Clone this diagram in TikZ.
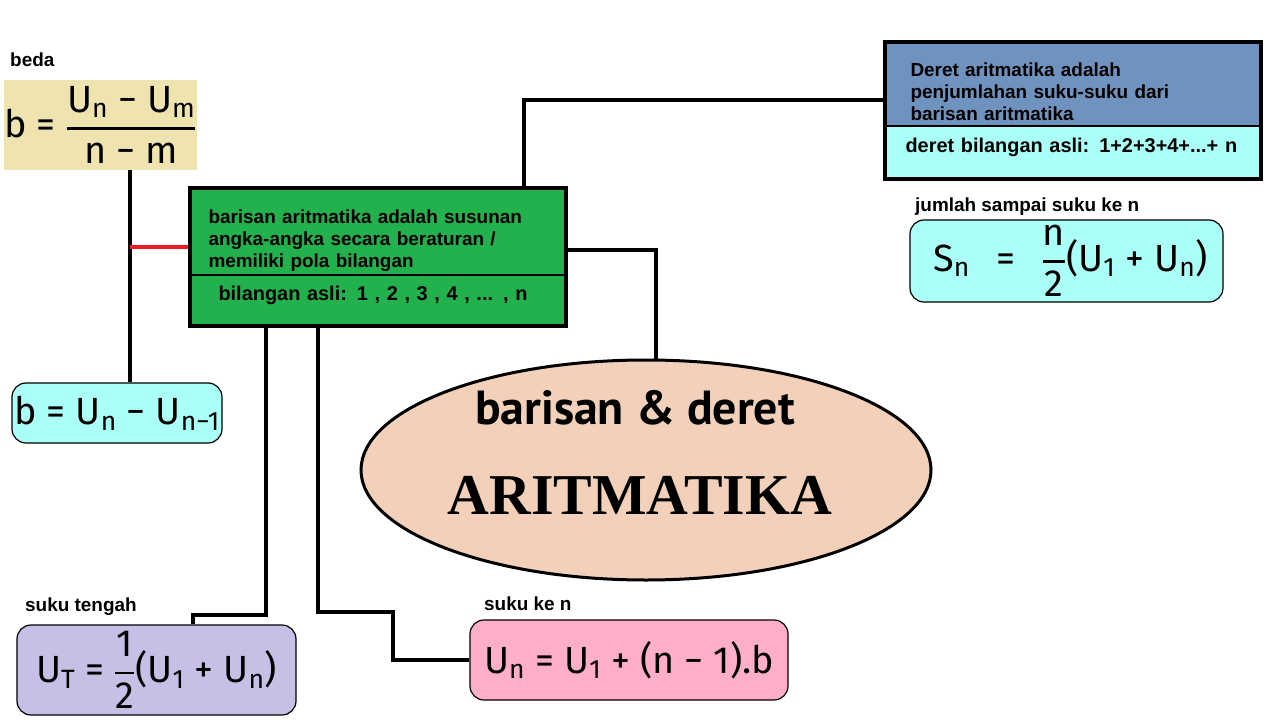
\RequirePackage{fix-cm}
\documentclass[tikz,border=0pt]{standalone}
\usepackage{amsmath}
\usepackage{fontspec}
\setmainfont{Liberation Sans}
\newfontfamily\rumus{Fira Sans}
\newfontfamily\judulfont{PT Sans}
\newfontfamily\hiasfont{Liberation Serif}
\usepackage{tikz}
\usetikzlibrary{shapes.geometric, positioning, calc}
\definecolor{mygreen}{RGB}{34,177,76}
\definecolor{myblue}{RGB}{112,146,190}
\definecolor{mycyan}{RGB}{170,255,247}
\definecolor{mybeige}{RGB}{239,228,176}
\definecolor{mylilac}{RGB}{200,191,231}
\definecolor{mypink}{RGB}{255,174,201}
\definecolor{mypeach}{RGB}{243,208,185}
\definecolor{myred}{RGB}{237,28,36}
\newcommand\sub[1]{\textsubscript{#1}}
\newcommand\pecahan[2]{$\genfrac{}{}{2.5bp}{0}{\hbox{#1}}{\hbox{#2}}$}
\newcommand\turun[1]{\rule{0pt}{#1}}
\newcommand\naik[1]{\rule[-#1]{0pt}{0pt}}
\tikzset{
  part/.style={rectangle, draw=black, line width=1bp, minimum width=375bp,
    inner xsep=18bp, inner ysep=0pt, align=left, text=black,
    font=\fontsize{19}{22}\selectfont\bfseries},
  formbox/.style={rectangle, rounded corners=14bp, draw=black, line width=1.2bp,
    inner sep=0pt, font=\rumus\fontsize{38}{44}\selectfont},
  tag/.style={anchor=west, inner sep=0pt, font=\fontsize{19}{21}\selectfont\bfseries},
  link/.style={line width=3.5bp, color=black},
  frame/.style={line width=4.5bp, color=black}
}

\begin{document}
\begin{tikzpicture}[x=1bp, y=-1bp]
  \useasboundingbox (0,0) rectangle (1280,720);

  % Beda
  \node[tag] (lbeda) at (10,60) {beda};
  \node[rectangle, fill=mybeige, minimum width=185bp, minimum height=90bp, inner sep=0pt,
    font=\rumus\fontsize{38}{44}\selectfont] (beda) at (100.5,125)
    {b = \pecahan{U\sub{n} − U\sub{m}}{n − m}};
  \node[formbox, fill=mycyan, minimum width=210bp, minimum height=60bp] (bselisih) at (117,413)
    {b = U\sub{n} − U\sub{n−1}};

  % Barisan box
  \node[part, fill=mygreen, text width=339bp, minimum height=86bp, anchor=north west] (barisan) at (190,188)
    {\turun{32bp}barisan aritmatika adalah susunan\\ angka-angka secara beraturan /\\ memiliki pola bilangan};
  \node[part, fill=mygreen, text width=319bp, inner xsep=28bp, minimum height=50bp, anchor=north west,
    font=\fontsize{20}{22}\selectfont\bfseries] (asli) at (barisan.south west)
    {bilangan asli: 1 , 2 , 3 , 4 , ... , n\naik{14bp}};

  % Deret box
  \node[part, fill=myblue, text width=325bp, inner xsep=25bp, minimum height=83bp, anchor=north west] (deret) at (885,42)
    {\turun{30bp}Deret aritmatika adalah\\ penjumlahan suku-suku dari\\ barisan aritmatika};
  \node[part, fill=mycyan, text width=335bp, inner xsep=20bp, minimum height=52bp, anchor=north west,
    font=\fontsize{20}{22}\selectfont\bfseries] (deretasli) at (deret.south west)
    {deret bilangan asli: 1+2+3+4+...+ n\naik{14bp}};

  % Jumlah
  \node[tag] (ljumlah) at (915,207) {jumlah sampai suku ke n};
  \node[formbox, fill=mycyan, minimum width=313bp, minimum height=82bp] (jumlah) at (1066.5,261)
    {\hspace*{8bp}S\sub{n} \ \,= \ \,\pecahan{n}{2}(U\sub{1} + U\sub{n})};

  % Topik
  \node[ellipse, draw=black, line width=3bp, fill=mypeach, minimum width=570bp, minimum height=220bp] (topik) at (646,470) {};
  \node[font=\judulfont\fontsize{48}{54}\selectfont\bfseries] (judul) at ($(topik.center)+(-11,-62)$) {barisan \& deret};
  \node[font=\hiasfont\fontsize{58}{64}\selectfont\bfseries] (aritmatika) at ($(topik.center)+(-6,25)$) {ARITMATIKA};

  % Suku tengah
  \node[tag] (ltengah) at (25,607) {suku tengah};
  \node[formbox, fill=mylilac, minimum width=279bp, minimum height=90bp] (tengah) at (156.5,670)
    {U\sub{T} = \pecahan{1}{2}(U\sub{1} + U\sub{n})};

  % Suku ke n
  \node[tag] (lsukun) at (484,604) {suku ke n};
  \node[formbox, fill=mypink, minimum width=318bp, minimum height=80bp] (sukun) at (629,660)
    {U\sub{n} = U\sub{1} + (n − 1).b};

  % Connectors
  \coordinate (tb) at (130,247);
  \coordinate (c1) at (524,100);
  \coordinate (c2) at (656,250);
  \coordinate (c3) at (266,615);
  \coordinate (c4) at (193,615);
  \coordinate (c5) at (318,612);
  \coordinate (c6) at (393,612);
  \draw[link] (beda.south -| tb) -- (bselisih.north -| tb);
  \draw[link, myred] (tb) -- (tb -| barisan.west);
  \draw[link] (barisan.north -| c1) -- (c1) -- (c1 -| deret.west);
  \draw[link] (c2 -| barisan.east) -- (c2) -- (c2 |- topik.north);
  \draw[link] (asli.south -| c3) -- (c3) -- (c4) -- (c4 |- tengah.north);
  \draw[link] (asli.south -| c5) -- (c5) -- (c6) |- (sukun.west);

  % Frames
  \draw[frame] (barisan.north west) rectangle (asli.south east);
  \draw[frame] (deret.north west) rectangle (deretasli.south east);
\end{tikzpicture}
\end{document}
